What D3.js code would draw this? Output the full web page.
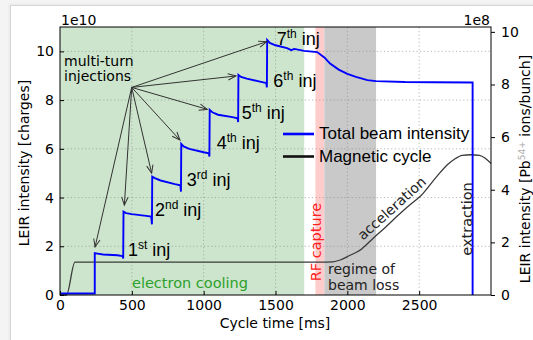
<!DOCTYPE html>
<html>
<head>
<meta charset="utf-8">
<script src="https://cdn.jsdelivr.net/npm/d3@7"></script>
<style>
  body { margin: 0; background: #f4f4f4; }
  svg { display: block; }
</style>
</head>
<body>
<div id="container"></div>
<script>
// beam intensity, 1e10 charges
const beamTime = [0, 242, 242, 260, 300, 400, 435, 440, 442, 460, 500, 600, 635, 640, 642, 660, 700, 800, 838, 842,
  844, 860, 900, 1000, 1036, 1040, 1042, 1060, 1100, 1200, 1236, 1240, 1242, 1260, 1300, 1400, 1436, 1440,
  1442, 1460, 1500, 1580, 1610, 1630, 1700, 1790, 1840, 1880, 1940, 2000, 2060, 2140, 2200, 2400, 2600, 2872, 2872];
const beamValue = [0.06, 0.06, 1.72, 1.70, 1.66, 1.63, 1.60, 1.50, 3.42, 3.36, 3.32, 3.25, 3.22, 2.90, 4.86, 4.80, 4.70, 4.55, 4.50, 4.24,
  6.20, 6.10, 6.00, 5.86, 5.82, 5.68, 7.60, 7.50, 7.40, 7.30, 7.25, 7.10, 9.03, 8.95, 8.88, 8.75, 8.70, 8.52,
  10.47, 10.35, 10.25, 10.13, 10.05, 10.10, 10.02, 9.97, 9.75, 9.50, 9.25, 9.08, 8.95, 8.82, 8.78, 8.74, 8.73, 8.72, 0];

// magnetic cycle, drawn on the right axis (1e8)
const magTime = [0, 45, 104, 1810, 1900, 1950, 2000, 2100, 2180, 2260, 2344, 2430, 2506, 2622, 2700, 2740, 2800, 2860, 2920, 2960, 3000];
const magValue = [0, 0, 1.25, 1.25, 1.26, 1.33, 1.46, 1.75, 2.16, 2.55, 2.98, 3.40, 3.74, 4.50, 4.97, 5.14, 5.31, 5.33, 5.31, 5.20, 5.00];

// shaded phases
const phaseStart = [0, 1778, 1840];
const phaseEnd = [1700, 1840, 2200];
const phaseColor = ['#cde5cd', '#ffcccc', '#c9c9c9'];

const xTicks = [0, 500, 1000, 1500, 2000, 2500];
const leftTicks = [0, 2, 4, 6, 8, 10];
const rightTicks = [0, 2, 4, 6, 8, 10];

// injections: label, superscript, arrow tip (t, v) and label anchor (t, v)
const injNum = ['1', '2', '3', '4', '5', '6', '7'];
const injSup = ['st', 'nd', 'rd', 'th', 'th', 'th', 'th'];
const tipTime = [244, 448, 638, 835, 1025, 1225, 1439];
const tipValue = [1.97, 3.69, 5.0, 6.36, 7.62, 8.99, 10.4];
const injLabelTime = [473, 661, 882, 1091, 1265, 1485, 1508];
const injLabelValue = [1.62, 3.26, 4.47, 6.01, 7.24, 8.52, 10.28];
const arrowFrom = [499, 8.52];

const width = 533, height = 340;
const svg = d3.select('#container').append('svg')
    .attr('width', width)
    .attr('height', height)

// page card
svg.append('rect').attr('width', width).attr('height', height).attr('fill', '#f4f4f4')
svg.append('rect').attr('x', 9.5).attr('y', 4.5).attr('width', 600).attr('height', 400)
    .attr('fill', 'none').attr('stroke', '#ececec').attr('stroke-width', 2)
svg.append('rect').attr('x', 10.5).attr('y', 5.5).attr('width', 600).attr('height', 400)
    .attr('fill', 'white').attr('stroke', '#d6d6d6')

const x = d3.scaleLinear().domain([0, 3000]).range([60, 491])
const yL = d3.scaleLinear().domain([0, 11]).range([295, 27])
const yR = d3.scaleLinear().domain([0, 11 / 1.08]).range([295, 27])

const mpl = 'DejaVu Sans';
const ppt = 'Liberation Sans';

// phases
svg.append('g').selectAll('rect')
    .data(phaseStart)
    .join('rect')
    .attr('x', (d) => x(d))
    .attr('width', (d, i) => x(phaseEnd[i]) - x(d))
    .attr('y', yL(11))
    .attr('height', yL(0) - yL(11))
    .attr('fill', (d, i) => phaseColor[i])

// grid
const grid = svg.append('g').attr('stroke', '#8a8a8a').attr('stroke-width', 0.6).attr('stroke-dasharray', '1.2,2.4')
grid.selectAll('.gx').data(xTicks.slice(1)).join('line')
    .attr('x1', d => x(d)).attr('x2', d => x(d)).attr('y1', yL(0)).attr('y2', yL(11))
grid.selectAll('.gy').data(leftTicks.slice(1)).join('line')
    .attr('y1', d => yL(d)).attr('y2', d => yL(d)).attr('x1', x(0)).attr('x2', x(3000))

// magnetic cycle
const magLine = d3.line().x(i => x(magTime[i])).y(i => yR(magValue[i])).curve(d3.curveMonotoneX)
svg.append('path')
    .attr('d', magLine(d3.range(magTime.length)))
    .attr('fill', 'none').attr('stroke', '#3a3a3a').attr('stroke-width', 1.3)

// beam intensity
const beamLine = d3.line().x(i => x(beamTime[i])).y(i => yL(beamValue[i]))
svg.append('path')
    .attr('d', beamLine(d3.range(beamTime.length)))
    .attr('fill', 'none').attr('stroke', '#0000ff').attr('stroke-width', 1.9)

// axes
svg.append('g').attr('transform', `translate(0,${yL(0)})`)
    .call(d3.axisBottom(x).tickValues(xTicks).tickFormat(d3.format('d')).tickSize(-4).tickPadding(5))
svg.append('g').attr('transform', `translate(${x(0)},0)`)
    .call(d3.axisLeft(yL).tickValues(leftTicks).tickSize(-4).tickPadding(6))
svg.append('g').attr('transform', `translate(${x(3000)},0)`)
    .call(d3.axisRight(yR).tickValues(rightTicks).tickSize(4).tickPadding(6))
svg.selectAll('.domain').remove()
svg.selectAll('.tick text').style('font-family', mpl).style('font-size', '14px').attr('fill', 'black')
svg.selectAll('.tick line').attr('stroke', 'black')
svg.append('rect')
    .attr('x', x(0)).attr('y', yL(11)).attr('width', x(3000) - x(0)).attr('height', yL(0) - yL(11))
    .attr('fill', 'none').attr('stroke', 'black').attr('stroke-width', 1)

const text = (px, py, str, opts = {}) => svg.append('text')
    .attr('x', px).attr('y', py)
    .attr('text-anchor', opts.anchor || 'start')
    .style('font-family', opts.font || mpl)
    .style('font-size', (opts.size || 14) + 'px')
    .attr('fill', opts.color || 'black')
    .text(str)

text(61, 25, '1e10')
text(490, 25, '1e8', {anchor: 'end'})
text(275, 328, 'Cycle time [ms]', {anchor: 'middle'})
text(0, 0, 'LEIR intensity [charges]', {anchor: 'middle'})
    .attr('transform', 'translate(29,163) rotate(-90)')

const rlab = svg.append('text')
    .attr('transform', 'translate(530,169) rotate(-90)')
    .attr('text-anchor', 'middle')
    .style('font-family', mpl).style('font-size', '14px')
rlab.append('tspan').text('LEIR intensity [Pb')
rlab.append('tspan').text('54+').attr('dy', -5).style('font-size', '9px').attr('fill', '#aaaaaa')
rlab.append('tspan').text(' ions/bunch]').attr('dy', 5)

// arrows
svg.append('defs').append('marker')
    .attr('id', 'head').attr('markerUnits', 'userSpaceOnUse')
    .attr('markerWidth', 12).attr('markerHeight', 12)
    .attr('viewBox', '-10 -6 12 12').attr('refX', 0).attr('refY', 0)
    .attr('orient', 'auto')
    .append('path').attr('d', 'M-8,-3.2 L0,0 L-8,3.2')
    .attr('fill', 'none').attr('stroke', '#333').attr('stroke-width', 1)

svg.append('g').selectAll('line')
    .data(tipTime)
    .join('line')
    .attr('x1', x(arrowFrom[0])).attr('y1', yL(arrowFrom[1]))
    .attr('x2', d => x(d)).attr('y2', (d, i) => yL(tipValue[i]))
    .attr('stroke', '#333').attr('stroke-width', 1)
    .attr('marker-end', 'url(#head)')

text(64, 66, 'multi-turn')
text(64, 81, 'injections')

// injection labels
injNum.forEach((n, i) => {
    const t = svg.append('text')
        .attr('x', x(injLabelTime[i])).attr('y', yL(injLabelValue[i]))
        .style('font-family', ppt).style('font-size', '18px')
    t.append('tspan').text(n)
    t.append('tspan').text(injSup[i]).attr('dy', -7).style('font-size', '12px')
    t.append('tspan').text(' inj').attr('dy', 7)
})

text(190, 288, 'electron cooling', {anchor: 'middle', color: '#2ca02c', size: 14.5})
text(0, 0, 'RF capture', {anchor: 'middle', color: '#ff2020', size: 14.5})
    .attr('transform', 'translate(321,242) rotate(-90)')
text(328, 274, 'regime of', {color: '#222'})
text(328, 290, 'beam loss', {color: '#222'})
text(0, 0, 'acceleration', {anchor: 'middle', color: '#222'})
    .attr('transform', 'translate(395,212) rotate(-42)')
text(0, 0, 'extraction', {anchor: 'middle', color: '#222', size: 14.5})
    .attr('transform', 'translate(471.5,219) rotate(-90)')

// legend
const legendLabels = ['Total beam intensity', 'Magnetic cycle'];
const legendColors = ['#0000ff', '#111111'];
const legendY = [134, 156.5];
const legend = svg.append('g')
legend.selectAll('line').data(legendLabels).join('line')
    .attr('x1', 283).attr('x2', 314)
    .attr('y1', (d, i) => legendY[i]).attr('y2', (d, i) => legendY[i])
    .attr('stroke', (d, i) => legendColors[i]).attr('stroke-width', 2.6)
legend.selectAll('text').data(legendLabels).join('text')
    .attr('x', 319).attr('y', (d, i) => legendY[i] + 5)
    .style('font-family', ppt).style('font-size', '17px')
    .text(d => d)
</script>
</body>
</html>
